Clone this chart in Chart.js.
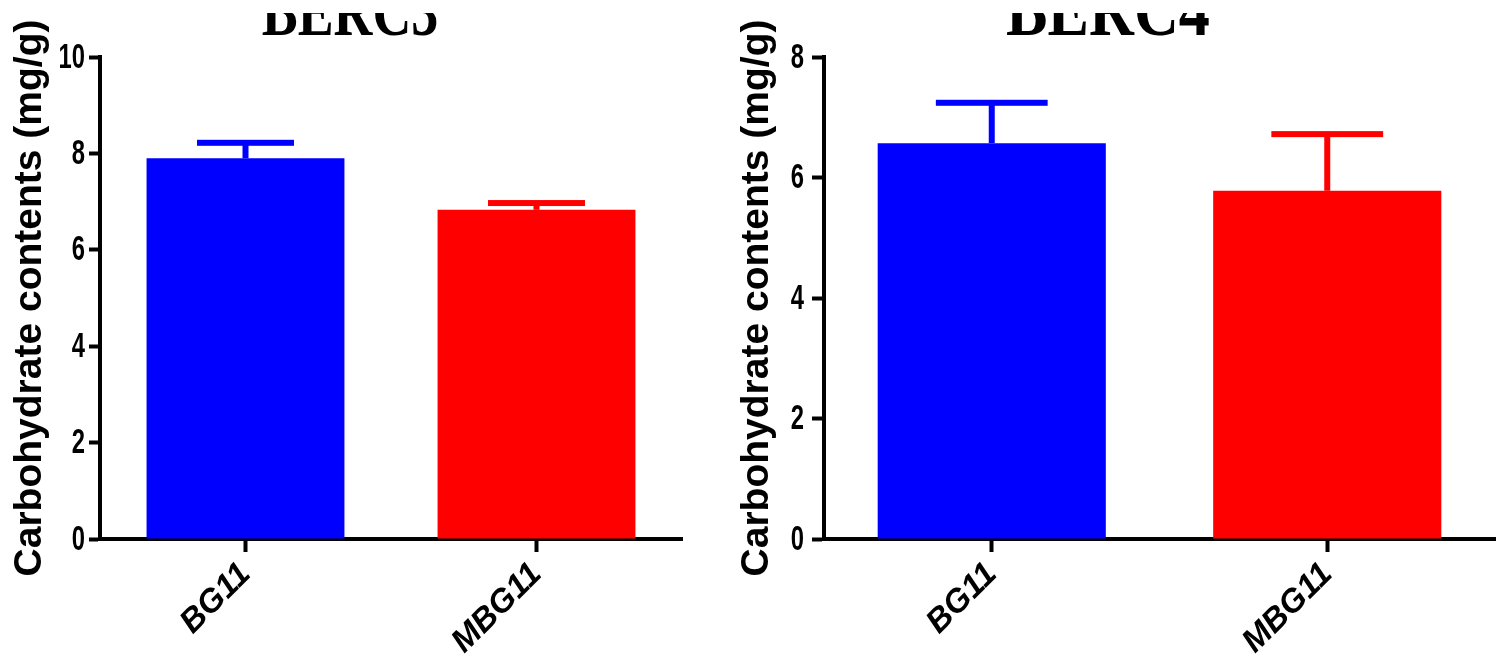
<!DOCTYPE html>
<html><head><meta charset="utf-8">
<script src="https://cdn.jsdelivr.net/npm/chart.js@4"></script>
<style>
html,body{margin:0;padding:0;background:#fff;width:1504px;height:672px;overflow:hidden}
.box{position:absolute;top:0;height:672px}
#b1{left:0;width:730px}
#b2{left:730px;width:774px}
canvas{display:block}
</style></head><body>
<div class="box" id="b1"><canvas id="c1" width="730" height="672"></canvas></div>
<div class="box" id="b2"><canvas id="c2" width="774" height="672"></canvas></div>
<script>
const categories = ['BG11', 'MBG11'];
const panelTitles = ['BERC3', 'BERC4'];
const berc3Means = [7.90, 6.83];
const berc3Errors = [0.32, 0.14];
const berc4Means = [6.57, 5.78];
const berc4Errors = [0.67, 0.94];
const berc3YTicks = [0, 2, 4, 6, 8, 10];
const berc4YTicks = [0, 2, 4, 6, 8];
const barColors = ['#0000FF', '#FF0000'];
const yAxisTitle = 'Carbohydrate contents (mg/g)';

const errorBarPlugin = {
  id: 'errorBars',
  afterDatasetsDraw(chart, args, opts) {
    const ctx = chart.ctx;
    const meta = chart.getDatasetMeta(0);
    const ys = chart.scales.y;
    const ds = chart.data.datasets[0];
    meta.data.forEach((bar, i) => {
      const top = ys.getPixelForValue(ds.data[i] + opts.errors[i]);
      const color = ds.backgroundColor[i];
      ctx.save();
      ctx.fillStyle = color;
      const w = bar.width * opts.capRatio;
      ctx.fillRect(bar.x - opts.stem / 2, top, opts.stem, bar.y - top);
      ctx.fillRect(bar.x - w / 2, top - opts.capThick / 2, w, opts.capThick);
      ctx.restore();
    });
  }
};

// y tick labels drawn from the library's own y scale ticks, in a condensed face
const narrowTickPlugin = {
  id: 'narrowTicks',
  afterDraw(chart, args, opts) {
    const ctx = chart.ctx;
    const s = chart.scales.y;
    ctx.save();
    ctx.font = 'bold ' + opts.size + "px 'Liberation Sans', Arial, sans-serif";
    ctx.fillStyle = '#000';
    ctx.textAlign = 'right';
    ctx.textBaseline = 'middle';
    s.ticks.forEach(t => {
      const y = s.getPixelForValue(t.value);
      ctx.save();
      ctx.translate(s.right - opts.offset, y + 1);
      ctx.scale(opts.squeeze, 1);
      ctx.fillText(t.label, 0, 0);
      ctx.restore();
    });
    ctx.restore();
  }
};

const panelTitlePlugin = {
  id: 'panelTitle',
  afterDraw(chart, args, opts) {
    const ctx = chart.ctx;
    ctx.save();
    ctx.beginPath();
    ctx.rect(0, opts.clipTop, chart.width, chart.height);
    ctx.clip();
    ctx.font = 'bold ' + opts.size + "px 'Liberation Serif', 'Times New Roman', serif";
    ctx.fillStyle = '#000';
    ctx.textAlign = 'center';
    ctx.textBaseline = 'alphabetic';
    ctx.translate(opts.x, opts.baseline);
    ctx.scale(opts.squeeze, 1);
    ctx.fillText(opts.text, 0, 0);
    ctx.restore();
  }
};

function makePanel(p) {
  const ticks = p.ticks;
  return new Chart(document.getElementById(p.id), {
    type: 'bar',
    data: {
      labels: categories,
      datasets: [{
        data: p.means,
        backgroundColor: barColors,
        borderWidth: 0,
        barPercentage: 0.68,
        categoryPercentage: 1.0
      }]
    },
    options: {
      responsive: false,
      animation: false,
      layout: { padding: { top: 57, right: p.padRight, bottom: 0, left: 0 } },
      plugins: {
        legend: { display: false },
        tooltip: { enabled: false },
        title: { display: false },
        errorBars: { errors: p.errors, capRatio: 0.49, stem: 6, capThick: 6 },
        narrowTicks: { size: 35, squeeze: 0.68, offset: p.yTickLen + p.yTickPad },
        panelTitle: { text: p.title, x: p.titleX, size: p.titleSize, squeeze: p.titleSqueeze, baseline: 35, clipTop: 13 }
      },
      scales: {
        x: {
          type: 'category',
          offset: true,
          z: 1,
          grid: { display: true, drawOnChartArea: false, drawTicks: true, tickLength: 13, tickWidth: 4, tickColor: '#000', offset: false },
          border: { display: true, color: '#000', width: 4 },
          ticks: {
            color: '#000',
            autoSkip: false,
            minRotation: 45,
            maxRotation: 45,
            padding: 3,
            font: { family: "'Liberation Sans', Arial, sans-serif", size: 33, weight: 'bold', style: 'italic' }
          },
          afterFit(s) { s.height = 133; }
        },
        y: {
          min: ticks[0],
          max: ticks[ticks.length - 1],
          z: 1,
          grid: { display: true, drawOnChartArea: false, drawTicks: true, tickLength: p.yTickLen, tickWidth: 4, tickColor: '#000' },
          border: { display: true, color: '#000', width: 4 },
          ticks: {
            stepSize: ticks[1] - ticks[0],
            display: false
          },
          title: {
            display: true,
            text: yAxisTitle,
            color: '#000',
            padding: { top: p.yTitlePad, bottom: 0 },
            font: { family: "'Liberation Sans', Arial, sans-serif", size: 39, weight: 'bold', lineHeight: 1.2 }
          },
          afterFit(s) { s.width = p.yWidth; }
        }
      }
    },
    plugins: [errorBarPlugin, narrowTickPlugin, panelTitlePlugin]
  });
}

makePanel({ id: 'c1', title: panelTitles[0], titleX: 350, titleSize: 69, titleSqueeze: 0.78, means: berc3Means, errors: berc3Errors,
  ticks: berc3YTicks, yWidth: 100, padRight: 48, yTickLen: 11, yTickPad: 4, yTitlePad: 7 });
makePanel({ id: 'c2', title: panelTitles[1], titleX: 378, titleSize: 74, titleSqueeze: 0.84, means: berc4Means, errors: berc4Errors,
  ticks: berc4YTicks, yWidth: 94, padRight: 9, yTickLen: 12, yTickPad: 8, yTitlePad: 4 });
</script>
</body></html>
